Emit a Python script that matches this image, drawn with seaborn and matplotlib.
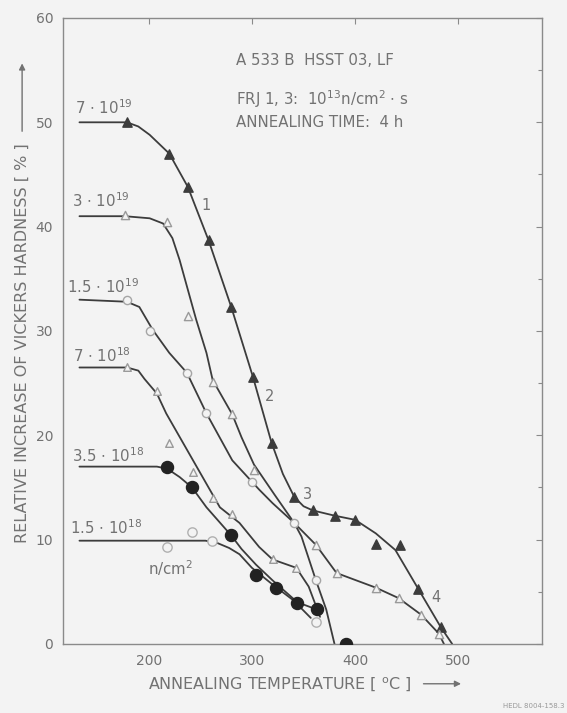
import matplotlib
matplotlib.use("Agg")
import matplotlib.pyplot as plt
import seaborn as sns
import pandas as pd

# ---------------- data ----------------
# fluence 7e19 (filled triangles)
c1_T = [133, 179, 190, 201, 220, 238, 258, 280, 301, 319, 330, 341, 350, 359, 380, 400, 420, 439, 461, 483, 494]
c1_V = [50, 50, 49.6, 48.8, 47, 43.8, 38.7, 32.3, 25.6, 19.3, 16.3, 14.1, 13.2, 12.8, 12.3, 11.9, 10.6, 9.0, 5.3, 1.6, 0]
m1_T = [179, 220, 238, 258, 280, 301, 319, 341, 359, 380, 400, 420, 443, 461, 483]
m1_V = [50, 47, 43.8, 38.7, 32.3, 25.6, 19.3, 14.1, 12.8, 12.3, 11.9, 9.6, 9.5, 5.3, 1.6]

# fluence 3e19 (open triangles)
c2_T = [133, 177, 201, 214, 223, 230, 237, 246, 256, 262, 281, 290, 302, 322, 341, 362, 382, 420, 442, 464, 481, 486]
c2_V = [41, 41, 40.8, 40.3, 38.9, 36.8, 34.3, 31.1, 27.9, 25.3, 22.0, 19.8, 17.2, 14.3, 11.6, 9.5, 6.8, 5.4, 4.4, 2.8, 1.0, 0]
m2_T = [177, 218, 238, 262, 281, 302, 362, 382, 420, 442, 464, 481]
m2_V = [41.1, 40.4, 31.4, 25.1, 22.0, 16.7, 9.5, 6.8, 5.4, 4.4, 2.8, 1.0]

# fluence 1.5e19 (open circles)
c3_T = [133, 179, 191, 204, 220, 237, 256, 281, 307, 320, 341, 348, 362, 372, 380]
c3_V = [33, 32.8, 32.3, 30.1, 27.9, 26.0, 22.1, 17.6, 14.8, 13.5, 11.6, 10.3, 6.1, 3.3, 0]
m3_T = [179, 201, 237, 256, 300, 341, 362]
m3_V = [33.0, 30.0, 26.0, 22.1, 15.5, 11.6, 6.1]

# fluence 7e18 (open triangles)
c4_T = [133, 179, 190, 196, 208, 217, 243, 269, 288, 307, 320, 343, 355, 363, 366]
c4_V = [26.5, 26.5, 26.2, 25.4, 24.0, 22.1, 17.6, 13.1, 11.6, 9.3, 8.1, 7.3, 5.5, 3.4, 2.6]
m4_T = [179, 208, 220, 243, 262, 281, 320, 343]
m4_V = [26.5, 24.2, 19.3, 16.5, 14.0, 12.5, 8.1, 7.3]

# fluence 3.5e18 (filled circles)
c5_T = [133, 208, 218, 230, 242, 256, 280, 290, 304, 320, 344, 363]
c5_V = [17.0, 17.0, 16.8, 16.0, 15.0, 13.1, 10.4, 9.1, 7.6, 6.1, 4.0, 3.3]
m5_T = [218, 242, 280, 304, 323, 344, 363, 391]
m5_V = [17.0, 15.0, 10.4, 6.6, 5.4, 3.9, 3.4, 0.0]

# fluence 1.5e18 (open circles)
c6_T = [133, 255, 266, 278, 288, 300, 320, 340, 357]
c6_V = [9.9, 9.9, 9.7, 9.2, 8.6, 7.3, 5.7, 4.2, 2.5]
m6_T = [218, 242, 261, 362]
m6_V = [9.3, 10.7, 9.9, 2.1]

series_labels = [r"7 $\cdot$ 10$^{19}$", r"3 $\cdot$ 10$^{19}$", r"1.5 $\cdot$ 10$^{19}$",
                 r"7 $\cdot$ 10$^{18}$", r"3.5 $\cdot$ 10$^{18}$", r"1.5 $\cdot$ 10$^{18}$"]
label_T = [128.5, 125.6, 120.8, 126.6, 125.6, 123.7]
label_V = [50.8, 41.9, 33.6, 27.0, 17.4, 10.5]

stage_labels = ["1", "2", "3", "4"]
stage_T = [256, 317, 354, 478]
stage_V = [42.0, 23.7, 14.3, 4.5]

header_lines = ["A 533 B  HSST 03, LF",
                r"FRJ 1, 3:  10$^{13}$n/cm$^{2}$ $\cdot$ s",
                "ANNEALING TIME:  4 h"]
header_V = [55.9, 52.2, 50.0]

x_ticks = [200, 300, 400, 500]
y_ticks = [0, 10, 20, 30, 40, 50, 60]

# ---------------- styling ----------------
BG = "#f3f3f3"
LINE = "#3c3c3c"
TXT = "#727272"
sns.set_style("white")
plt.rcParams["font.family"] = ["DejaVu Sans"]
plt.rcParams["mathtext.fontset"] = "dejavusans"

fig = plt.figure(figsize=(5.67, 7.13), dpi=100, facecolor=BG)
ax = fig.add_axes([0.111, 0.0968, 0.845, 0.878])
ax.set_facecolor(BG)

curves = [(c1_T, c1_V), (c2_T, c2_V), (c3_T, c3_V), (c4_T, c4_V), (c5_T, c5_V), (c6_T, c6_V)]
for T, V in curves:
    df = pd.DataFrame({"T": T, "V": V})
    sns.lineplot(data=df, x="T", y="V", ax=ax, sort=False, estimator=None,
                 color=LINE, linewidth=1.3)

marker_sets = [
    (m1_T, m1_V, "^", LINE, LINE, 45),
    (m2_T, m2_V, "^", BG, "#9a9a9a", 35),
    (m3_T, m3_V, "o", BG, "#a5a5a5", 35),
    (m4_T, m4_V, "^", BG, "#9a9a9a", 30),
    (m5_T, m5_V, "o", "#222222", "#222222", 75),
    (m6_T, m6_V, "o", BG, "#b0b0b0", 45),
]
for T, V, mk, fc, ec, s in marker_sets:
    df = pd.DataFrame({"T": T, "V": V})
    sns.scatterplot(data=df, x="T", y="V", ax=ax, marker=mk, s=s,
                    color=fc, edgecolor=ec, linewidth=1.0, zorder=5)

for lab, T, V in zip(series_labels, label_T, label_V):
    ax.text(T, V, lab, fontsize=10.8, color=TXT, ha="left", va="baseline")
ax.text(199, 6.6, r"n/cm$^{2}$", fontsize=10.8, color=TXT, ha="left", va="baseline")

for lab, T, V in zip(stage_labels, stage_T, stage_V):
    ax.text(T, V, lab, fontsize=10.5, color=TXT, ha="center", va="center")

for line, V in zip(header_lines, header_V):
    ax.text(285, V, line, fontsize=10.8, color=TXT, ha="left", va="center")

ax.set_xlim(117, 581)
ax.set_ylim(0, 60)
ax.set_xticks(x_ticks)
ax.set_yticks(y_ticks)
ax.set_yticks(range(5, 60, 10), minor=True)
ax.tick_params(which="both", direction="in", top=True, right=True,
               colors="#8a8a8a", labelcolor=TXT, labelsize=10, length=4, width=0.8, pad=7)
ax.tick_params(which="minor", length=3)
for sp in ax.spines.values():
    sp.set_color("#8a8a8a")
    sp.set_linewidth(1.0)
ax.set_xlabel("")
ax.set_ylabel("")

# axis titles with arrows
fig.text(0.039, 0.519, "RELATIVE INCREASE OF VICKERS HARDNESS [ % ]", rotation=90,
         fontsize=11.5, color=TXT, ha="center", va="center")
fig.add_artist(matplotlib.patches.FancyArrowPatch((0.039, 0.812), (0.039, 0.915),
               transform=fig.transFigure, arrowstyle="-|>", mutation_scale=9,
               color=TXT, linewidth=1.0))
fig.text(0.261, 0.039, r"ANNEALING TEMPERATURE [ $^{\rm o}$C ]", fontsize=11.5,
         color=TXT, ha="left", va="center")
fig.add_artist(matplotlib.patches.FancyArrowPatch((0.742, 0.041), (0.818, 0.041),
               transform=fig.transFigure, arrowstyle="-|>", mutation_scale=9,
               color=TXT, linewidth=1.0))
fig.text(0.995, 0.006, "HEDL 8004-158.3", fontsize=5, color="#999999", ha="right", va="bottom")

fig.savefig("out.png", dpi=100, facecolor=BG)
